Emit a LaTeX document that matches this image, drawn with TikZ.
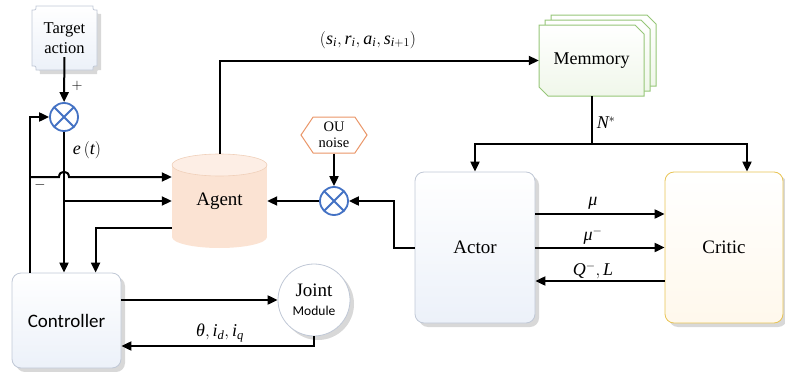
\documentclass[tikz,border=0pt]{standalone}
\usepackage{fontspec}
\setmainfont{Liberation Serif}
\newfontfamily\calfont{Carlito}
\usetikzlibrary{arrows.meta,shapes.symbols,shadows,calc}
\newcommand\gr[1]{\mbox{\itshape #1}}
\definecolor{sumblue}{RGB}{68,114,196}
\definecolor{peach}{RGB}{251,227,211}
\definecolor{peachedge}{RGB}{240,208,186}
\definecolor{memgreen}{RGB}{150,198,120}
\definecolor{memfill}{RGB}{240,247,234}
\definecolor{boxedge}{RGB}{192,200,214}
\definecolor{boxfill}{RGB}{236,241,249}
\definecolor{criticedge}{RGB}{232,196,84}
\definecolor{criticfill}{RGB}{255,248,236}
\definecolor{ouedge}{RGB}{234,150,104}
\begin{document}
\begin{tikzpicture}[x=1pt,y=-1pt,line cap=butt,line join=miter,
	>={Triangle[length=10pt,width=9pt]},font=\fontsize{19}{22}\selectfont,
	wire/.style={line width=2pt},
	arr/.style={wire,->},
	softshadow/.style={drop shadow={shadow xshift=4pt,shadow yshift=-4pt,opacity=.22,fill=black!70}},
	sumnode/.style={circle,draw=sumblue,line width=1.8pt,fill=white,minimum size=28pt,inner sep=0pt,
		path picture={\draw[sumblue,line width=1.8pt]
			(path picture bounding box.north west)--(path picture bounding box.south east)
			(path picture bounding box.north east)--(path picture bounding box.south west);}},
	tshape/.style={draw=boxedge,line width=.8pt,top color=white,bottom color=boxfill,softshadow},
	memshape/.style={draw=memgreen,line width=1pt,top color=white,bottom color=memfill},
	ctrlbox/.style={rectangle,rounded corners=9pt,draw=boxedge,line width=.8pt,top color=white,
		bottom color=boxfill,softshadow,minimum width=109pt,minimum height=95pt,font=\calfont\fontsize{19}{22}\selectfont},
	actorbox/.style={ctrlbox,minimum width=120pt,minimum height=151pt,font=\fontsize{19}{22}\selectfont},
	criticbox/.style={actorbox,draw=criticedge,top color=white,bottom color=criticfill,minimum width=118pt},
	jointnode/.style={circle,draw=boxedge,line width=.8pt,fill=white,softshadow,minimum size=72pt,
		inner sep=0pt,align=center},
	ounode/.style={signal,signal to=west and east,signal pointer angle=112,draw=ouedge,line width=1pt,
		fill=white,minimum width=66pt,minimum height=36pt,inner sep=1pt,align=center,
		font=\fontsize{14.5}{16}\selectfont},
	lbl/.style={font=\fontsize{18}{20}\selectfont}]
	\useasboundingbox (0,0) rectangle (785,372);
	% blocks
	\path[tshape] (36,6)--(93,6) .. controls (93,10) .. (97,10)--(97,66) .. controls (93,66) .. (93,70)
		--(36,70) .. controls (36,66) .. (32,66)--(32,10) .. controls (36,10) .. (36,6)--cycle;
	\node[align=center,font=\fontsize{16.5}{20}\selectfont] (target) at (64.5,38) {Target\\action};
	\node[sumnode] (sumA) at (64,117) {};
	\node[sumnode] (sumB) at (334,201) {};
	\node[ctrlbox] (ctrl) at (66.5,320.5) {Controller};
	\fill[peach] (172,165) rectangle (267,237);
	\fill[peach] (219.5,237) ellipse [x radius=47.5pt,y radius=11pt];
	\filldraw[fill=peach!60!white,draw=peachedge,line width=.6pt] (219.5,165) ellipse [x radius=47.5pt,y radius=11pt];
	\node[minimum width=95pt,minimum height=94pt,inner sep=0pt] (agent) at (219.5,201) {Agent};
	\node[jointnode] (joint) at (314,300) {Joint\\[-3pt]{\calfont\fontsize{13.5}{15}\selectfont Module}};
	\node[ounode] (ou) at (334,135) {OU\\noise};
	\foreach\d in {12,6,0}{
		\path[memshape,shift={(\d,{-5*\d/6})}] (539,25)--(635,25)--(644,34)--(644,96)--(548,96)--(539,87)--cycle;}
	\node[minimum width=105pt,minimum height=71pt,inner sep=0pt,font=\fontsize{18}{20}\selectfont] (mem) at (591.5,60.5) {Memmory};
	\node[actorbox] (actor) at (475,247.5) {Actor};
	\node[criticbox] (critic) at (724,247.5) {Critic};
	% connectors
	\coordinate (fbA) at (30,177);
	\coordinate (hopL) at ($(sumA|-fbA)+(-5,0)$);
	\coordinate (split) at ([yshift=-48pt]mem.south);
	\draw[arr] (target)--(sumA);
	\draw[arr] ([xshift=18pt]ctrl.north west) |- (sumA.west);
	\draw[arr] (sumA)--(sumA|-ctrl.north);
	\draw[arr] (fbA)--(hopL) .. controls +(0,-7) and +(0,-7) .. ++(10,0)--(agent.west|-fbA);
	\draw[arr] (sumA|-agent.west)--(agent.west);
	\draw[arr] ([yshift=-27pt]agent.west) -| ([xshift=84pt]ctrl.north west);
	\draw[arr] (ctrl.east|-joint)--(joint.west);
	\draw[arr] (joint.south) |- ([yshift=-25.5pt]ctrl.east);
	\draw[arr] (agent.north) |- (mem.west);
	\draw[wire] (mem.south)--(split);
	\draw[arr] (split) -| (actor.north);
	\draw[arr] (split) -| ([xshift=23pt]critic.north);
	\draw[arr] ([yshift=33.5pt]actor.east)--([yshift=33.5pt]critic.west);
	\draw[arr] (actor.east)--(critic.west);
	\draw[arr] ([yshift=-33.5pt]critic.west)--([yshift=-33.5pt]actor.east);
	\draw[arr] (actor.west)--++(-21pt,0) |- (sumB.east);
	\draw[arr] (sumB)--(agent.east);
	\draw[arr] (ou.south)--(sumB.north);
	% labels
	\node[font=\fontsize{15}{16}\selectfont] (plus) at (77,86) {$+$};
	\node[font=\fontsize{15}{16}\selectfont] (minus) at (40,185) {$-$};
	\node[lbl] (err) at (87,150) {$\mathit{e}\left(\mathit{t}\right)$};
	\node[lbl] (tuple) at (368,40) {$\left(\mathit{s}_{\mathit{i}},\mathit{r}_{\mathit{i}},\mathit{a}_{\mathit{i}},\mathit{s}_{\mathit{i}+1}\right)$};
	\node[lbl] (nstar) at (606,123) {$\mathit{N}^*$};
	\node[lbl] (mu) at (593,203) {$\gr{μ}$};
	\node[lbl] (mum) at (593,236) {$\gr{μ}^-$};
	\node[lbl] (qloss) at (593,271) {$\mathit{Q}^-,\mathit{L}$};
	\node[lbl] (fbk) at (220,333) {$\gr{θ},\mathit{i}_{\mathit{d}},\mathit{i}_{\mathit{q}}$};
\end{tikzpicture}
\end{document}
